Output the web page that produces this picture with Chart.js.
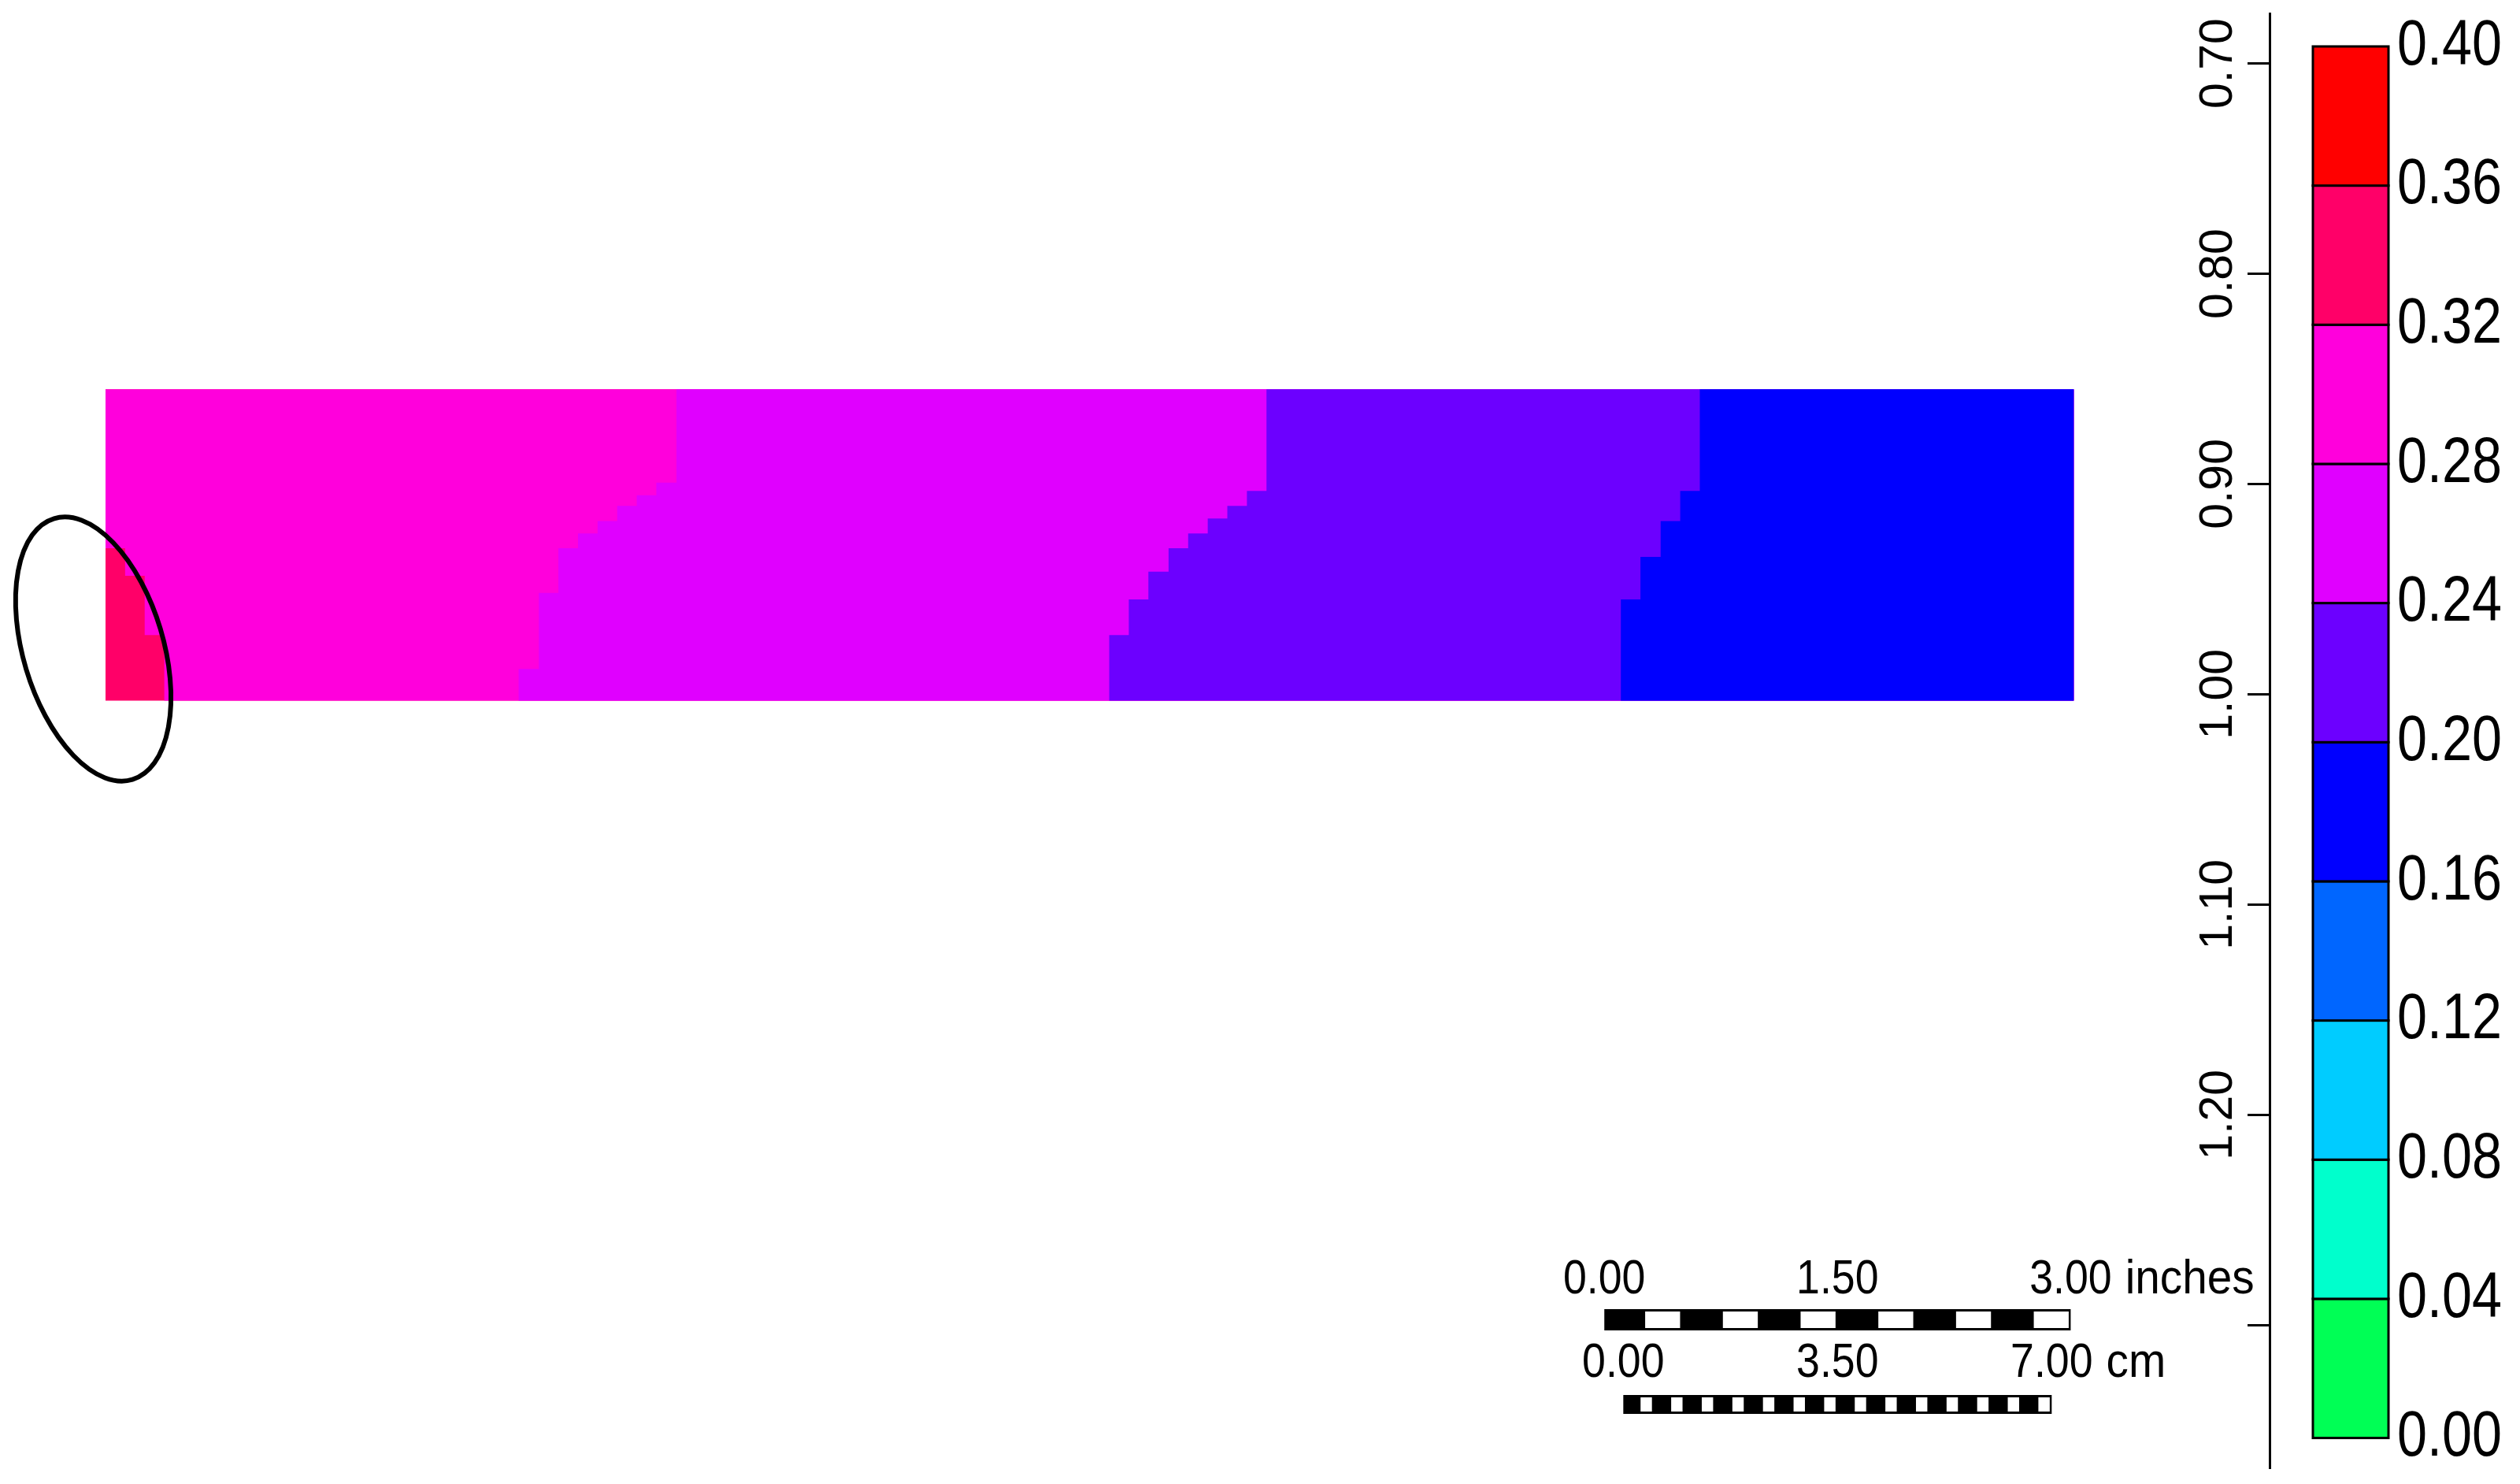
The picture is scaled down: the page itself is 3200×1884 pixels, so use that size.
<!DOCTYPE html>
<html>
<head>
<meta charset="utf-8">
<script src="https://cdn.jsdelivr.net/npm/chart.js@4.4.1/dist/chart.umd.min.js"></script>
<style>
  html, body { margin: 0; padding: 0; background: #fff; }
  canvas { display: block; }
</style>
</head>
<body>
<canvas id="myChart" width="3200" height="1884"></canvas>
<script>
// colour classes (lower edge of each class + top) and their colours
const classLevels = [0.00, 0.04, 0.08, 0.12, 0.16, 0.20, 0.24, 0.28, 0.32, 0.36, 0.40];
const classColors = ['#00FF55', '#00FFCC', '#00CCFF', '#0066FF', '#0000FF', '#6C00FF', '#E000FF', '#FF00DC', '#FF0068', '#FF0000'];
const classLabels = ['0.00', '0.04', '0.08', '0.12', '0.16', '0.20', '0.24', '0.28', '0.32', '0.36', '0.40'];

// depth axis
const depthTicks = [0.70, 0.80, 0.90, 1.00, 1.10, 1.20, 1.30];
const depthLabels = ['0.70', '0.80', '0.90', '1.00', '1.10', '1.20', ''];

// section extent: x in cm, depth
const sectionX = [0, 32.16];
const sectionDepth = [0.855, 1.003];

// contour lines: depth where each step starts, x of the line on that step
const c32Depth = [0.855, 0.9306, 0.9437, 0.9719];
const c32X = [0, 0.32, 0.64, 0.96];
const c28Depth = [0.855, 0.8994, 0.9054, 0.9104, 0.9176, 0.9235, 0.9306, 0.9518, 0.9880];
const c28X = [9.33, 9.00, 8.68, 8.36, 8.04, 7.72, 7.40, 7.08, 6.75];
const c24Depth = [0.855, 0.9033, 0.9104, 0.9164, 0.9235, 0.9306, 0.9417, 0.9549, 0.9719];
const c24X = [18.97, 18.65, 18.33, 18.01, 17.69, 17.37, 17.04, 16.72, 16.40];
const c20Depth = [0.855, 0.9033, 0.9176, 0.9347, 0.9549];
const c20X = [26.05, 25.73, 25.41, 25.08, 24.76];

// area right of a stepped contour line, up to the right edge of the section
function rightOf(depths, xs) {
    const pts = [];
    depths.forEach((d, i) => {
        const next = i + 1 < depths.length ? depths[i + 1] : sectionDepth[1];
        pts.push({ x: xs[i], y: d }, { x: xs[i], y: next });
    });
    pts.push({ x: sectionX[1], y: sectionDepth[1] }, { x: sectionX[1], y: sectionDepth[0] });
    return pts;
}

// painted left to right, each layer covers everything right of its contour
const layers = [
    { cls: 8, pts: rightOf([sectionDepth[0]], [sectionX[0]]) },
    { cls: 7, pts: rightOf(c32Depth, c32X) },
    { cls: 6, pts: rightOf(c28Depth, c28X) },
    { cls: 5, pts: rightOf(c24Depth, c24X) },
    { cls: 4, pts: rightOf(c20Depth, c20X) }
];

const datasets = layers.map(l => ({
    label: classLabels[l.cls] + ' - ' + classLabels[l.cls + 1],
    data: l.pts,
    backgroundColor: classColors[l.cls],
    borderWidth: 0,
    pointRadius: 0,
    fill: 'shape',
    tension: 0
})).reverse(); // chart.js draws the last dataset first

// text squeezed sideways, like the narrow font of the original
function narrowText(ctx, text, x, y, size, sx, align) {
    ctx.save();
    ctx.font = size + 'px "Liberation Sans"';
    const tw = ctx.measureText(text).width * sx;
    const left = align === 'center' ? x - tw / 2 : x;
    ctx.translate(left, y);
    ctx.scale(sx, 1);
    ctx.fillText(text, 0, 0);
    ctx.restore();
    return left + tw;
}

const extras = {
    id: 'extras',
    afterDatasetsDraw(chart) {
        // hand drawn ellipse round the high-value corner
        const ctx = chart.ctx, xs = chart.scales.x, ys = chart.scales.y;
        const cx = xs.getPixelForValue(-0.20), cy = ys.getPixelForValue(0.9785);
        const rx = xs.getPixelForValue(1.145) - xs.getPixelForValue(0);
        const ry = ys.getPixelForValue(1.0648) - ys.getPixelForValue(1.0);
        ctx.save();
        ctx.beginPath();
        ctx.ellipse(cx, cy, rx, ry, -16.7 * Math.PI / 180, 0, Math.PI * 2);
        ctx.lineWidth = 6;
        ctx.strokeStyle = '#000';
        ctx.stroke();
        ctx.restore();
    },
    afterDraw(chart) {
        const ctx = chart.ctx;
        // colour bar with its labels
        const cb = chart.scales.cbar;
        const left = cb.left + 55, w = 96;
        ctx.save();
        ctx.lineWidth = 3;
        ctx.strokeStyle = '#000';
        classColors.forEach((c, i) => {
            const yTop = cb.getPixelForValue(classLevels[i + 1]);
            const yBot = cb.getPixelForValue(classLevels[i]);
            ctx.fillStyle = c;
            ctx.fillRect(left, yTop, w, yBot - yTop);
            ctx.strokeRect(left, yTop, w, yBot - yTop);
        });
        ctx.fillStyle = '#000';
        ctx.textBaseline = 'middle';
        classLevels.forEach((v, i) => {
            narrowText(ctx, classLabels[i], cb.left + 162, cb.getPixelForValue(v), 82, 0.833, 'left');
        });
        ctx.restore();

        // scale bars
        const xs = chart.scales.x;
        drawBar(ctx, xs, 24.49, 2.54, 3, 12, 1662, 27, ['0.00', '1.50', '3.00'], 'inches', 1642);
        drawBar(ctx, xs, 24.80, 1, 7, 28, 1771, 24, ['0.00', '3.50', '7.00'], 'cm', 1748);
    }
};

function drawBar(ctx, xs, start, unitCm, len, nSeg, top, h, labels, unit, baseline) {
    const x0 = xs.getPixelForValue(start);
    const x1 = xs.getPixelForValue(start + len * unitCm);
    const seg = (x1 - x0) / nSeg;
    ctx.save();
    ctx.fillStyle = '#000';
    ctx.fillRect(x0, top, x1 - x0, h);
    ctx.fillStyle = '#fff';
    for (let i = 1; i < nSeg; i += 2) {
        ctx.fillRect(x0 + i * seg + 2.5, top + 3, seg - 5, h - 6);
    }
    ctx.fillStyle = '#000';
    ctx.textBaseline = 'alphabetic';
    labels.forEach((t, i) => {
        const px = x0 + (x1 - x0) * i / 2;
        const end = narrowText(ctx, t, px, baseline, 61, 0.88, 'center');
        if (i === labels.length - 1) narrowText(ctx, unit, end + 17, baseline, 61, 0.93, 'left');
    });
    ctx.restore();
}

new Chart(document.getElementById('myChart'), {
    type: 'line',
    data: { datasets: datasets },
    options: {
        responsive: false,
        animation: false,
        events: [],
        parsing: false,
        layout: { padding: { left: 134, top: 17, bottom: 20, right: 0 } },
        plugins: { legend: { display: false }, tooltip: { enabled: false } },
        scales: {
            x: { type: 'linear', display: false, min: 0, max: 35.36 },
            y: {
                type: 'linear',
                position: 'right',
                reverse: true,
                min: 0.6762,
                max: 1.3681,
                weight: 0,
                border: { display: true, color: '#000', width: 3 },
                grid: { drawOnChartArea: false, drawTicks: true, tickLength: -28, tickWidth: 3, tickColor: '#000' },
                afterBuildTicks: s => { s.ticks = depthTicks.map(v => ({ value: v })); },
                afterFit: s => { s.width = 0; s.paddingTop = 0; s.paddingBottom = 0; },
                ticks: {
                    autoSkip: false,
                    mirror: true,
                    padding: -7,
                    crossAlign: 'center',
                    minRotation: 90,
                    maxRotation: 90,
                    color: '#000',
                    font: { family: 'Liberation Sans', size: 59 },
                    callback: (v, i) => depthLabels[i]
                }
            },
            cbar: {
                type: 'linear',
                axis: 'y',
                position: 'right',
                weight: 1,
                min: -0.0087,
                max: 0.4095,
                border: { display: false },
                grid: { display: false, drawTicks: false },
                afterBuildTicks: s => { s.ticks = classLevels.map(v => ({ value: v })); },
                afterFit: s => { s.width = 318; s.paddingTop = 0; s.paddingBottom = 0; },
                ticks: { display: false }
            }
        }
    },
    plugins: [extras]
});
</script>
</body>
</html>
